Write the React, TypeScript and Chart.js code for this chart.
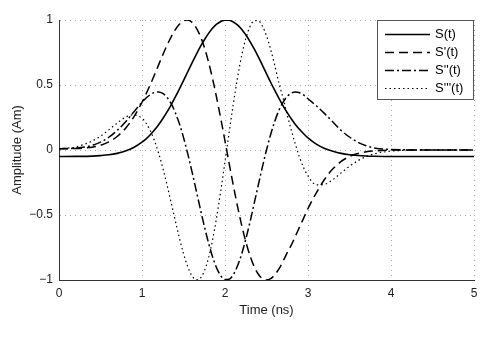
import React, { useEffect, useRef } from 'react';
import { Chart, registerables } from 'chart.js';

Chart.register(...registerables);

const FONT = "'Liberation Sans', Arial, Helvetica, sans-serif";

const seriesLabels = ["S(t)", "S'(t)", "S''(t)", "S'''(t)"];
const xTicks = [0, 1, 2, 3, 4, 5];
const yTicks = [-1, -0.5, 0, 0.5, 1];

const times = [
  0, 0.2, 0.4, 0.5, 0.6, 0.7, 0.8, 0.9,
  1.0, 1.05, 1.1, 1.15, 1.2, 1.25, 1.3, 1.35, 1.4, 1.45, 1.5, 1.55, 1.6, 1.65, 1.7, 1.75, 1.8, 1.85, 1.9, 1.95,
  2.0, 2.05, 2.1, 2.15, 2.2, 2.25, 2.3, 2.35, 2.4, 2.45, 2.5, 2.55, 2.6, 2.65, 2.7, 2.75, 2.8, 2.85, 2.9, 2.95,
  3.0, 3.1, 3.2, 3.3, 3.4, 3.5, 3.6, 3.7, 3.8, 4.0, 4.5, 5.0,
];

const pulse = [
  -0.05, -0.049, -0.047, -0.043, -0.037, -0.026, -0.008, 0.019,
  0.06, 0.086, 0.117, 0.153, 0.194, 0.24, 0.291, 0.346, 0.406, 0.469, 0.534, 0.6, 0.666, 0.73, 0.791, 0.846, 0.895, 0.936, 0.968, 0.989,
  0.999, 0.998, 0.985, 0.962, 0.929, 0.886, 0.836, 0.779, 0.718, 0.653, 0.587, 0.521, 0.458, 0.397, 0.34, 0.287, 0.238, 0.195, 0.157, 0.123,
  0.093, 0.045, 0.012, -0.01, -0.026, -0.036, -0.042, -0.046, -0.048, -0.05, -0.05, -0.05,
];

const deriv1 = [
  0.01, 0.012, 0.022, 0.036, 0.062, 0.104, 0.166, 0.253,
  0.367, 0.433, 0.503, 0.578, 0.655, 0.731, 0.803, 0.869, 0.925, 0.967, 0.993, 1.0, 0.984, 0.944, 0.88, 0.792, 0.68, 0.549, 0.4, 0.238,
  0.069, -0.103, -0.271, -0.431, -0.576, -0.704, -0.811, -0.895, -0.954, -0.989, -1.0, -0.99, -0.96, -0.915, -0.856, -0.789, -0.73, -0.66, -0.59, -0.52,
  -0.45, -0.33, -0.225, -0.145, -0.088, -0.05, -0.027, -0.014, -0.007, -0.001, 0, 0,
];

const deriv2 = [
  0.01, 0.014, 0.035, 0.06, 0.098, 0.15, 0.216, 0.292,
  0.368, 0.4, 0.426, 0.442, 0.446, 0.435, 0.406, 0.358, 0.29, 0.203, 0.097, -0.026, -0.16, -0.302, -0.445, -0.584, -0.711, -0.821, -0.909, -0.968,
  -0.997, -0.994, -0.959, -0.893, -0.801, -0.687, -0.557, -0.416, -0.273, -0.132, 0.0, 0.119, 0.222, 0.305, 0.369, 0.413, 0.438, 0.446, 0.44, 0.422,
  0.394, 0.34, 0.28, 0.215, 0.15, 0.1, 0.06, 0.033, 0.016, 0.004, 0, 0,
];

const deriv3 = [
  0.01, 0.024, 0.069, 0.107, 0.155, 0.207, 0.252, 0.271,
  0.244, 0.206, 0.149, 0.072, -0.024, -0.137, -0.265, -0.401, -0.541, -0.676, -0.797, -0.896, -0.965, -0.998, -0.988, -0.933, -0.834, -0.692, -0.515, -0.311,
  -0.09, 0.135, 0.354, 0.553, 0.724, 0.857, 0.948, 0.993, 0.995, 0.954, 0.878, 0.774, 0.649, 0.513, 0.4, 0.27, 0.15, 0.04, -0.06, -0.14,
  -0.2, -0.268, -0.264, -0.227, -0.176, -0.125, -0.083, -0.051, -0.03, -0.009, 0, 0,
];

const seriesValues = [pulse, deriv1, deriv2, deriv3];
const seriesDashes: number[][] = [[], [9, 5], [9, 3, 2, 3], [1.5, 3]];
const seriesWidths = [1.6, 1.5, 1.5, 1.2];

const fmtTick = (v: number) => (v < 0 ? '\u2212' + String(Math.abs(v)) : String(v));

const legendBox = {
  id: 'legendBox',
  afterDatasetsDraw(chart: any) {
    const { ctx, chartArea } = chart;
    const w = 97;
    const h = 80;
    const x = Math.round(chartArea.right - w);
    const y = Math.round(chartArea.top);
    ctx.save();
    ctx.fillStyle = '#ffffff';
    ctx.fillRect(x, y, w, h);
    ctx.strokeStyle = '#555555';
    ctx.lineWidth = 1;
    ctx.setLineDash([]);
    ctx.strokeRect(x + 0.5, y + 0.5, w - 1, h - 1);
    chart.data.datasets.forEach((ds: any, i: number) => {
      const ry = Math.round(y + 13.5 + i * 18.3) + 0.5;
      ctx.beginPath();
      ctx.setLineDash(ds.borderDash || []);
      ctx.lineWidth = ds.borderWidth;
      ctx.strokeStyle = ds.borderColor;
      ctx.moveTo(x + 8, ry);
      ctx.lineTo(x + 53, ry);
      ctx.stroke();
      ctx.setLineDash([]);
      ctx.fillStyle = '#000000';
      ctx.font = `13px ${FONT}`;
      ctx.textBaseline = 'middle';
      ctx.textAlign = 'left';
      ctx.fillText(ds.label, x + 58, ry);
    });
    ctx.restore();
  },
};

export default function App() {
  const canvasRef = useRef<HTMLCanvasElement | null>(null);

  useEffect(() => {
    if (!canvasRef.current) return;
    const datasets = seriesLabels.map((label, k) => ({
      label,
      data: times.map((t, i) => ({ x: t, y: seriesValues[k][i] })),
      borderColor: '#000000',
      backgroundColor: '#000000',
      borderWidth: seriesWidths[k],
      borderDash: seriesDashes[k],
      pointRadius: 0,
      pointHoverRadius: 0,
      fill: false,
      cubicInterpolationMode: 'monotone' as const,
    }));

    const chart = new Chart(canvasRef.current, {
      type: 'line',
      data: { datasets },
      plugins: [legendBox],
      options: {
        animation: false,
        responsive: false,
        devicePixelRatio: 1,
        events: [],
        layout: { padding: { left: 0, top: 20, right: 27, bottom: 0 } },
        plugins: {
          legend: { display: false },
          tooltip: { enabled: false },
        },
        scales: {
          x: {
            type: 'linear',
            min: 0,
            max: 5,
            afterBuildTicks: (s: any) => {
              s.ticks = xTicks.map((v) => ({ value: v }));
            },
            afterFit: (s: any) => {
              s.height = 68;
            },
            ticks: {
              font: { family: FONT, size: 12 },
              color: '#222222',
              padding: 6,
              maxRotation: 0,
              autoSkip: false,
            },
            grid: { color: '#a8a8a8', lineWidth: 1, drawTicks: false },
            border: { display: true, color: '#333333', width: 1, dash: [1, 4] },
            title: {
              display: true,
              text: 'Time (ns)',
              font: { family: FONT, size: 13 },
              color: '#222222',
              padding: { top: 0, bottom: 30 },
            },
          },
          y: {
            type: 'linear',
            min: -1,
            max: 1,
            afterBuildTicks: (s: any) => {
              s.ticks = yTicks.map((v) => ({ value: v }));
            },
            afterFit: (s: any) => {
              s.width = 59;
            },
            ticks: {
              font: { family: FONT, size: 12 },
              color: '#222222',
              padding: 6,
              autoSkip: false,
              callback: (v: any) => fmtTick(Number(v)),
            },
            grid: { color: '#a8a8a8', lineWidth: 1, drawTicks: false },
            border: { display: true, color: '#333333', width: 1, dash: [1, 4] },
            title: {
              display: true,
              text: 'Amplitude (Am)',
              font: { family: FONT, size: 13 },
              color: '#222222',
              padding: { top: 10, bottom: 0 },
            },
          },
        },
      },
    });
    return () => chart.destroy();
  }, []);

  return (
    <div style={{ position: 'absolute', left: 0, top: 0, width: 501, height: 348, background: '#ffffff' }}>
      <canvas ref={canvasRef} width={501} height={348} style={{ display: 'block' }} />
    </div>
  );
}
